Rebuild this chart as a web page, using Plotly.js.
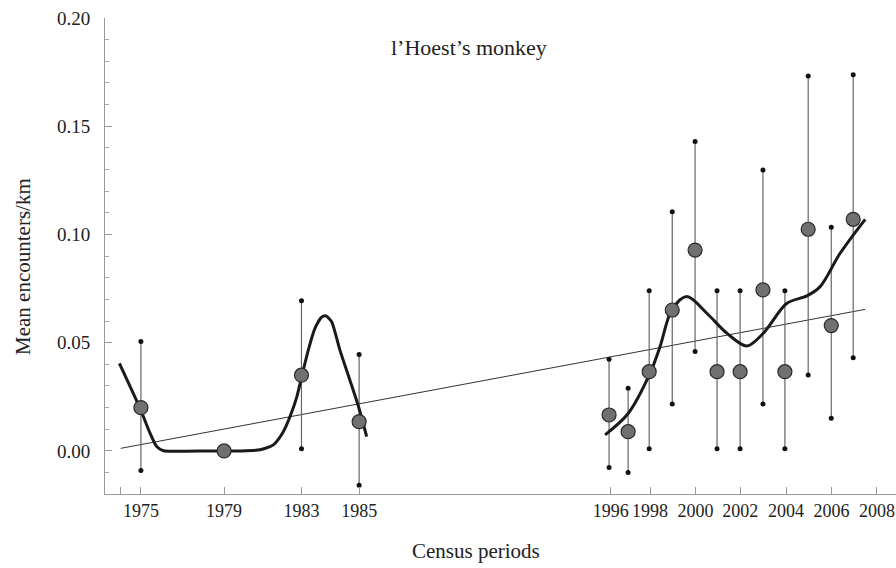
<!DOCTYPE html>
<html>
<head>
<meta charset="utf-8">
<script src="https://cdn.plot.ly/plotly-3.0.1.min.js"></script>
<style>html,body{margin:0;padding:0;background:#fff;}#chart{width:896px;height:568px;}</style>
</head>
<body>
<div id="chart"></div>
<script>
// Census periods (labels) and their position on the time axis
const periodLabel = ['1975','1979','1983','1985','1996','1997','1998','1999','2000','2001','2002','2003','2004','2005','2006','2007'];
const periodX = [1974.81,1978.56,1982.05,1984.65,1995.92,1996.78,1997.73,1998.77,1999.80,2000.79,2001.83,2002.86,2003.85,2004.90,2005.94,2006.93];
// Mean encounters/km and confidence limits
const meanEnc = [0.020,0.000,0.035,0.0135,0.0166,0.0089,0.0366,0.0651,0.0928,0.0366,0.0366,0.0744,0.0366,0.1024,0.0579,0.107];
const upperEnc = [0.0505,null,0.0694,0.0445,0.0423,0.029,0.074,0.1105,0.1429,0.074,0.074,0.1298,0.074,0.1732,0.1033,0.1738];
const lowerEnc = [-0.0091,null,0.001,-0.0158,-0.0077,-0.010,0.001,0.0217,0.0459,0.001,0.001,0.0217,0.001,0.0351,0.0151,0.0431];
// Smooth fitted curve (two segments)
const smoothX1 = [1973.84,1974.77,1975.22,1975.52,1975.82,1977.9,1979.28,1980.18,1980.78,1981.23,1981.53,1981.84,1982.06,1982.36,1982.66,1982.96,1983.15,1983.41,1983.78,1984.23,1984.62,1984.99];
const smoothY1 = [0.0405,0.0197,0.0082,0.002,0.0001,0.0,0.0,0.0005,0.0028,0.0089,0.0158,0.025,0.0343,0.0467,0.0567,0.0618,0.0624,0.0597,0.0467,0.0328,0.0205,0.0066];
const smoothX2 = [1995.74,1996.79,1997.77,1998.22,1998.75,1999.43,2000.33,2001.23,2002.13,2002.88,2003.94,2004.84,2005.44,2006.34,2007.47];
const smoothY2 = [0.0074,0.0174,0.0359,0.0482,0.0651,0.0713,0.0636,0.0544,0.0485,0.0544,0.0682,0.0716,0.0759,0.0913,0.107];
// Linear trend
const trendX = [1973.9,2007.47];
const trendY = [0.0012,0.0654];
// Axis ticks
const tickPos = [1973.9,1974.81,1978.56,1982.05,1984.65,1996.0,1997.77,1999.82,2001.84,2003.9,2005.95,2008.0];
const tickLabel = ['','1975','1979','1983','1985','1996','1998','2000','2002','2004','2006','2008'];

const barX = [], barY = [], endX = [], endY = [];
periodX.forEach((x, i) => {
  if (upperEnc[i] === null) return;
  barX.push(x, x, null); barY.push(lowerEnc[i], upperEnc[i], null);
  endX.push(x, x); endY.push(lowerEnc[i], upperEnc[i]);
});

const font = 'Liberation Serif, Times New Roman, serif';
const traces = [
  {x: trendX, y: trendY, mode: 'lines', line: {color: '#333', width: 1}, hoverinfo: 'skip'},
  {x: barX, y: barY, mode: 'lines', line: {color: '#666', width: 1.2}, hoverinfo: 'skip'},
  {x: endX, y: endY, mode: 'markers', marker: {color: '#111', size: 5}, hoverinfo: 'skip'},
  {x: smoothX1, y: smoothY1, mode: 'lines', line: {color: '#1a1a1a', width: 3, shape: 'spline', smoothing: 0.6}, hoverinfo: 'skip'},
  {x: smoothX2, y: smoothY2, mode: 'lines', line: {color: '#1a1a1a', width: 3, shape: 'spline', smoothing: 0.9}, hoverinfo: 'skip'},
  {x: periodX, y: meanEnc, text: periodLabel, mode: 'markers', marker: {color: '#707070', size: 14, line: {color: '#2a2a2a', width: 1.2}}, hoverinfo: 'text+y'}
];

const layout = {
  width: 896, height: 568,
  margin: {l: 105, r: 0, t: 18, b: 74},
  paper_bgcolor: '#fff', plot_bgcolor: '#fff',
  showlegend: false,
  font: {family: font, size: 19, color: '#222'},
  xaxis: {
    range: [1973.19, 2008.86],
    showgrid: false, zeroline: false,
    showline: true, linecolor: '#999', linewidth: 1,
    ticks: 'inside', ticklen: 7, tickcolor: '#999',
    tickmode: 'array', tickvals: tickPos, ticktext: tickLabel,
    tickangle: 0, automargin: false,
    tickfont: {family: font, size: 18, color: '#222'}
  },
  yaxis: {
    range: [-0.0199, 0.2],
    showgrid: false, zeroline: false,
    showline: true, linecolor: '#999', linewidth: 1,
    ticks: 'inside', ticklen: 7, tickcolor: '#999',
    tickmode: 'array', tickvals: [0, 0.05, 0.10, 0.15, 0.20], ticktext: ['0.00','0.05','0.10','0.15','0.20'],
    minor: {tickmode: 'linear', tick0: 0, dtick: 0.01, ticks: 'inside', ticklen: 4, tickcolor: '#aaa'},
    ticklabelstandoff: 10,
    tickfont: {family: font, size: 19, color: '#222'}
  },
  annotations: [
    {text: 'l’Hoest’s monkey', xref: 'paper', yref: 'paper', x: 0.460, y: 0.939,
     showarrow: false, font: {family: font, size: 22, color: '#222'}, xanchor: 'center', yanchor: 'middle'},
    {text: 'Census periods', xref: 'paper', yref: 'paper', x: 0.469, y: -0.1197,
     showarrow: false, font: {family: font, size: 21, color: '#222'}, xanchor: 'center', yanchor: 'middle'},
    {text: 'Mean encounters/km', xref: 'paper', yref: 'paper', x: -0.1037, y: 0.479, textangle: -90,
     showarrow: false, font: {family: font, size: 21, color: '#222'}, xanchor: 'center', yanchor: 'middle'}
  ]
};

Plotly.newPlot('chart', traces, layout, {displayModeBar: false, staticPlot: true});
</script>
</body>
</html>
